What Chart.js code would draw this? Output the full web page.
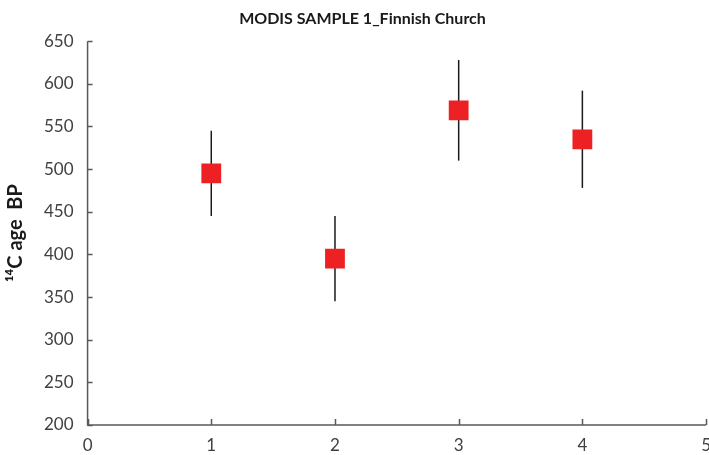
<!DOCTYPE html>
<html>
<head>
<meta charset="utf-8">
<script src="https://cdn.jsdelivr.net/npm/chart.js@4/dist/chart.umd.min.js"></script>
<style>
  html, body { margin: 0; padding: 0; background: #fff; overflow: hidden; }
  #wrap { width: 721px; height: 455px; }
</style>
</head>
<body>
<div id="wrap"><canvas id="chart" width="721" height="455"></canvas></div>
<script>
const xValues = [1, 2, 3, 4];
const ages = [495, 395, 569, 535];
const errors = [50, 50, 59, 57];
const yTicks = [200, 250, 300, 350, 400, 450, 500, 550, 600, 650];
const xTicks = [0, 1, 2, 3, 4, 5];

const FONT = "Lato, 'Open Sans', sans-serif";

// vertical error bars, drawn under the squares
const errorBars = {
    id: 'errorBars',
    beforeDatasetsDraw(chart) {
        const ctx = chart.ctx;
        const xs = chart.scales.x, ys = chart.scales.y;
        ctx.save();
        ctx.strokeStyle = '#1a1a1a';
        ctx.lineWidth = 1.5;
        xValues.forEach((x, i) => {
            let px = xs.getPixelForValue(x);
            ctx.beginPath();
            ctx.moveTo(px, ys.getPixelForValue(ages[i] + errors[i]));
            ctx.lineTo(px, ys.getPixelForValue(ages[i] - errors[i]));
            ctx.stroke();
        });
        ctx.restore();
    }
};

// axis lines with inside tick marks
const innerTicks = {
    id: 'innerTicks',
    afterDraw(chart) {
        const ctx = chart.ctx;
        const xs = chart.scales.x, ys = chart.scales.y;
        const a = chart.chartArea;
        ctx.save();
        ctx.strokeStyle = '#595959';
        ctx.lineWidth = 1.5;
        ctx.beginPath();
        ctx.moveTo(a.left, a.top);
        ctx.lineTo(a.left, a.bottom);
        ctx.lineTo(a.right, a.bottom);
        yTicks.forEach(v => {
            let py = Math.round(ys.getPixelForValue(v)) + 0.5;
            ctx.moveTo(a.left, py);
            ctx.lineTo(a.left + 5, py);
        });
        xTicks.forEach(v => {
            let px = Math.round(xs.getPixelForValue(v)) + 0.5;
            ctx.moveTo(px, a.bottom);
            ctx.lineTo(px, a.bottom - 6);
        });
        ctx.stroke();
        ctx.restore();
    }
};

new Chart(document.getElementById('chart'), {
    type: 'scatter',
    data: {
        datasets: [{
            data: xValues.map((x, i) => ({ x: x, y: ages[i] })),
            pointStyle: 'rect',
            pointRadius: 14,
            pointHoverRadius: 14,
            backgroundColor: '#ED2024',
            borderColor: '#ED2024',
            borderWidth: 0
        }]
    },
    options: {
        responsive: false,
        animation: false,
        layout: { padding: { top: 5, right: 0, left: 4, bottom: 0 } },
        plugins: {
            legend: { display: false },
            tooltip: { enabled: false },
            title: {
                display: true,
                text: 'MODIS SAMPLE 1_Finnish Church',
                color: '#1a1a1a',
                font: { family: FONT, size: 16, weight: 'bold' },
                padding: { top: 4, bottom: 13 }
            }
        },
        scales: {
            x: {
                type: 'linear',
                min: 0,
                max: 5,
                afterBuildTicks: s => { s.ticks = xTicks.map(v => ({ value: v })); },
                afterFit: s => { s.height = 30; },
                grid: { display: false, drawTicks: false },
                border: { display: false },
                ticks: {
                    color: '#404040',
                    font: { family: FONT, size: 17 },
                    padding: 10,
                    maxRotation: 0
                }
            },
            y: {
                min: 200,
                max: 650,
                afterBuildTicks: s => { s.ticks = yTicks.map(v => ({ value: v })); },
                grid: { display: false, drawTicks: false },
                border: { display: false },
                ticks: {
                    color: '#404040',
                    font: { family: FONT, size: 17 },
                    padding: 14
                },
                title: {
                    display: true,
                    text: '¹⁴C age  BP',
                    color: '#1a1a1a',
                    font: { family: FONT, size: 20, weight: 'bold' },
                    padding: { top: 0, bottom: 2 }
                }
            }
        }
    },
    plugins: [errorBars, innerTicks]
});
</script>
</body>
</html>
